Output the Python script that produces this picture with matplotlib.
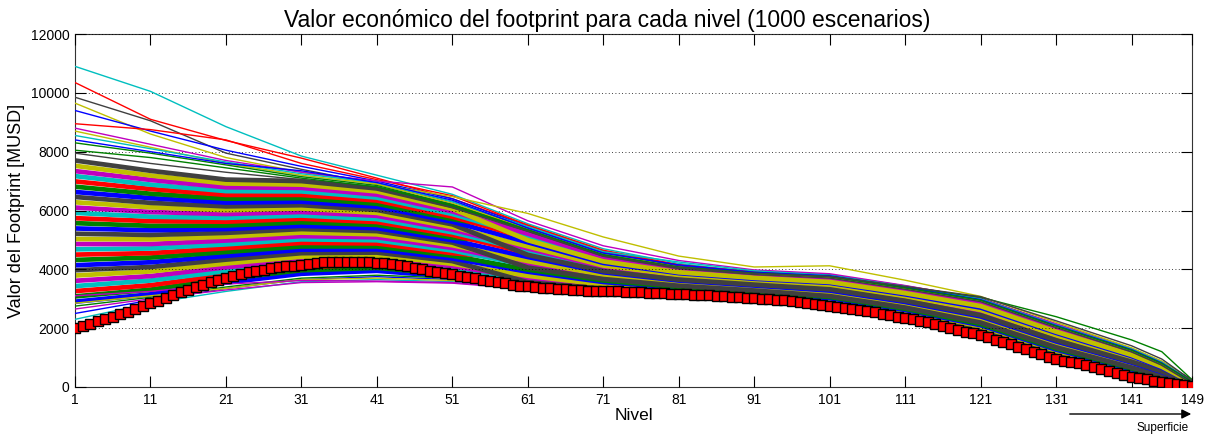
import matplotlib
matplotlib.use("Agg")
import matplotlib.pyplot as plt

plt.rcParams['font.family'] = ['Liberation Sans', 'DejaVu Sans']

# ---------------- data ----------------
title_text = "Valor económico del footprint para cada nivel (1000 escenarios)"
x_label = "Nivel"
y_label = "Valor del Footprint [MUSD]"
x_ticks = [1, 11, 21, 31, 41, 51, 61, 71, 81, 91, 101, 111, 121, 131, 141, 149]
y_ticks = [0, 2000, 4000, 6000, 8000, 10000, 12000]

node_levels = [1, 11, 21, 31, 41, 51, 61, 71, 81, 91, 101, 111, 121, 131, 141, 145, 149]

# dense band of scenarios (values read/estimated at node_levels)
band_scenarios = [
    [2900, 3150, 3550, 3850, 3950, 3750, 3420, 3250, 3120, 2980, 2760, 2360, 1800, 980, 370, 190, 30],
    [3080, 3310, 3680, 3970, 4050, 3840, 3490, 3300, 3160, 3010, 2800, 2400, 1840, 1020, 400, 210, 40],
    [3260, 3460, 3810, 4080, 4160, 3930, 3850, 3530, 3330, 3180, 2980, 2590, 2060, 1220, 570, 330, 60],
    [3430, 3620, 3940, 4200, 4260, 4020, 3640, 3390, 3230, 3080, 2870, 2470, 1930, 1100, 470, 260, 50],
    [3610, 3770, 4070, 4320, 4370, 4110, 3710, 3440, 3260, 3110, 2910, 2510, 1970, 1140, 500, 280, 50],
    [3790, 3930, 4200, 4430, 4470, 4190, 3780, 3480, 3300, 3150, 2950, 2550, 2020, 1180, 530, 300, 60],
    [3970, 4080, 4330, 4550, 4570, 4280, 3560, 3340, 3190, 3050, 2830, 2440, 1890, 1060, 440, 240, 40],
    [4140, 4240, 4460, 4670, 4680, 4370, 3920, 3570, 3370, 3210, 3020, 2620, 2100, 1270, 600, 350, 70],
    [4320, 4400, 4590, 4780, 4780, 4460, 3990, 3620, 3400, 3250, 3060, 2660, 2140, 1310, 630, 370, 70],
    [4500, 4550, 4720, 4900, 4880, 4550, 4350, 3850, 3580, 3410, 3240, 2850, 2360, 1510, 790, 480, 100],
    [4680, 4710, 4850, 5020, 4990, 4640, 4140, 3710, 3480, 3310, 3130, 2740, 2230, 1390, 700, 420, 90],
    [4860, 4860, 4980, 5130, 5090, 4730, 4210, 3760, 3510, 3350, 3170, 2780, 2270, 1430, 730, 440, 90],
    [5030, 5020, 5110, 5250, 5190, 4820, 4280, 3810, 3550, 3380, 3200, 2810, 2320, 1470, 760, 460, 100],
    [5210, 5170, 5240, 5370, 5300, 4910, 4060, 3670, 3440, 3280, 3090, 2700, 2190, 1350, 660, 390, 80],
    [5390, 5330, 5370, 5480, 5400, 4990, 4420, 3900, 3620, 3450, 3280, 2890, 2400, 1550, 830, 510, 110],
    [5570, 5480, 5490, 5600, 5510, 5080, 4850, 4180, 3830, 3650, 3500, 3120, 2660, 1800, 1020, 640, 140],
    [5740, 5640, 5620, 5720, 5610, 5170, 4560, 3990, 3690, 3510, 3350, 2960, 2490, 1630, 890, 550, 120],
    [5920, 5790, 5750, 5830, 5710, 5260, 4640, 4040, 3720, 3550, 3390, 3000, 2530, 1670, 920, 570, 120],
    [6100, 5950, 5880, 5950, 5820, 5350, 4710, 4080, 3760, 3580, 3430, 3040, 2570, 1710, 960, 600, 130],
    [6280, 6110, 6010, 6070, 5920, 5440, 4780, 4130, 3800, 3610, 3460, 3080, 2620, 1750, 990, 620, 140],
    [6460, 6260, 6140, 6180, 6020, 5530, 4490, 3940, 3650, 3480, 3320, 2930, 2440, 1590, 860, 530, 110],
    [6630, 6420, 6270, 6300, 6130, 5620, 4920, 4220, 3870, 3680, 3540, 3150, 2700, 1840, 1050, 660, 150],
    [6810, 6570, 6400, 6420, 6230, 5710, 5280, 4450, 4040, 3850, 3720, 3340, 2920, 2040, 1220, 780, 170],
    [6990, 6730, 6530, 6530, 6340, 5790, 5060, 4320, 3940, 3750, 3610, 3230, 2790, 1920, 1120, 710, 160],
    [7170, 6880, 6660, 6650, 6440, 5880, 5140, 4360, 3970, 3780, 3650, 3270, 2830, 1960, 1150, 730, 160],
    [7340, 7040, 6790, 6770, 6540, 5970, 5210, 4410, 4010, 3810, 3690, 3300, 2870, 2000, 1190, 750, 170],
    [7520, 7190, 6920, 6880, 6650, 6060, 4990, 4270, 3900, 3710, 3570, 3190, 2750, 1880, 1090, 690, 150],
    [7700, 7350, 7050, 7000, 6750, 6150, 5350, 4500, 4080, 3880, 3760, 3380, 2960, 2080, 1250, 800, 180],
]

# individual (sparse) scenarios visible at the edges of the band
edge_scenarios = [
    [10900, 10050, 8850, 7850, 7200, 6550, 5550, 4700, 4200, 3900, 3780, 3400, 2980, 2100, 1280, 830, 190],
    [10350, 9100, 8380, 7780, 7100, 6400, 5500, 4650, 4150, 3900, 3770, 3390, 2970, 2090, 1270, 820, 185],
    [9850, 9050, 7950, 7400, 6900, 6300, 5400, 4550, 4100, 3880, 3760, 3380, 2960, 2080, 1260, 810, 180],
    [9650, 8600, 7800, 7300, 6900, 6250, 5380, 4530, 4090, 3870, 3750, 3370, 2950, 2070, 1250, 800, 180],
    [9400, 8700, 8050, 7500, 7000, 6400, 5450, 4600, 4130, 3890, 3760, 3380, 2960, 2080, 1260, 810, 180],
    [8950, 8750, 8400, 7600, 7050, 6500, 5500, 4620, 4150, 3900, 3770, 3390, 2970, 2090, 1270, 820, 185],
    [8800, 8250, 7700, 7300, 7000, 6800, 5650, 4800, 4300, 3980, 3850, 3450, 3000, 2150, 1300, 850, 190],
    [8700, 8150, 7600, 7200, 6900, 6470, 5900, 5100, 4450, 4080, 4120, 3630, 3080, 2200, 1330, 880, 200],
    [8550, 8100, 7650, 7250, 6950, 6300, 5450, 4600, 4250, 3950, 3800, 3420, 2990, 2110, 1290, 840, 190],
    [8300, 7950, 7550, 7150, 6850, 6200, 5350, 4500, 4080, 3880, 3760, 3400, 3050, 2390, 1600, 1200, 250],
    [8400, 8000, 7600, 7350, 6950, 6350, 5400, 4550, 4150, 3900, 3780, 3390, 2970, 2090, 1270, 820, 185],
    [8050, 7800, 7450, 7100, 6800, 6150, 5300, 4480, 4070, 3870, 3750, 3370, 2950, 2070, 1250, 800, 180],
    [7950, 7600, 7300, 7050, 6750, 6100, 5300, 4450, 4060, 3860, 3760, 3420, 3070, 2250, 1400, 950, 220],
    [2300, 2850, 3250, 3580, 3650, 3580, 3380, 3230, 3100, 2950, 2720, 2330, 1780, 950, 360, 180, 20],
    [2500, 2950, 3350, 3650, 3750, 3650, 3420, 3270, 3110, 2960, 2740, 2340, 1790, 960, 360, 180, 20],
    [2750, 3050, 3400, 3700, 3800, 3700, 3450, 3280, 3130, 2990, 2770, 2370, 1810, 980, 380, 190, 30],
    [2650, 3000, 3300, 3550, 3580, 3530, 3330, 3200, 3060, 2920, 2700, 2310, 1760, 940, 350, 170, 20],
    [2850, 3100, 3350, 3650, 3700, 3620, 3400, 3250, 3100, 2960, 2740, 2350, 1790, 970, 370, 180, 25],
    [3100, 3250, 3500, 3620, 3600, 3550, 3350, 3220, 3080, 2940, 2720, 2330, 1780, 960, 360, 180, 20],
]
edge_colors = ['c', 'r', 'k', 'y', 'b', 'r', 'm', 'y', 'c', 'g', 'b', 'g', 'k',
               'c', 'b', 'g', 'm', 'y', 'm']

# highlighted scenario (red squares), one value per level 1..149
red_levels = list(range(1, 150))
red_values = [
    2000, 2080, 2150, 2230, 2300, 2380, 2470, 2560, 2650, 2750,
    2850, 2940, 3030, 3130, 3220, 3300, 3390, 3470, 3560, 3640,
    3720, 3790, 3850, 3900, 3950, 3990, 4030, 4070, 4100, 4130,
    4160, 4190, 4220, 4240, 4250, 4260, 4260, 4260, 4250, 4240,
    4220, 4200, 4170, 4140, 4100, 4060, 4010, 3960, 3910, 3870,
    3830, 3780, 3740, 3690, 3650, 3610, 3560, 3520, 3480, 3450,
    3420, 3400, 3370, 3350, 3330, 3320, 3300, 3290, 3280, 3280,
    3270, 3260, 3250, 3240, 3230, 3220, 3210, 3200, 3180, 3170,
    3160, 3150, 3140, 3130, 3120, 3100, 3090, 3070, 3050, 3040,
    3020, 3000, 2990, 2970, 2950, 2920, 2890, 2860, 2820, 2790,
    2750, 2720, 2690, 2660, 2620, 2580, 2540, 2490, 2440, 2390,
    2340, 2300, 2250, 2200, 2150, 2080, 2010, 1940, 1870, 1820,
    1770, 1690, 1610, 1530, 1450, 1370, 1280, 1200, 1110, 1030,
    950, 900, 850, 800, 750, 680, 610, 540, 470, 410,
    350, 310, 270, 220, 180, 140, 100, 60, 30,
]

# ---------------- styling ----------------
matlab_colors = {
    'b': (0, 0, 1), 'g': (0, 0.5, 0), 'r': (1, 0, 0), 'c': (0, 0.75, 0.75),
    'm': (0.75, 0, 0.75), 'y': (0.75, 0.75, 0), 'k': (0.25, 0.25, 0.25),
}
cycle = ['b', 'g', 'r', 'c', 'm', 'y', 'k']

W, H = 1209, 434
fig = plt.figure(figsize=(W / 100, H / 100), dpi=100)
ax = fig.add_axes([75 / W, (H - 387) / H, (1192 - 75) / W, (387 - 34) / H])

for i, row in enumerate(band_scenarios):
    ax.plot(node_levels, row, color=matlab_colors[cycle[i % 7]], lw=3.4,
            solid_joinstyle='round', zorder=2)

for row, c in zip(edge_scenarios, edge_colors):
    ax.plot(node_levels, row, color=matlab_colors[c], lw=1.0, zorder=3)

ax.plot(red_levels, red_values, linestyle='none', marker='s', markersize=6.6,
        markerfacecolor=(1, 0, 0), markeredgecolor='black', markeredgewidth=1.0,
        zorder=5)

ax.set_xlim(1, 149)
ax.set_ylim(0, 12000)
ax.set_xticks(x_ticks)
ax.set_yticks(y_ticks)
ax.tick_params(direction='in', length=8, width=0.8, top=True, right=True,
               labelsize=10, pad=4, colors='black')
for s in ax.spines.values():
    s.set_color((0.2, 0.2, 0.2))
    s.set_linewidth(0.8)
ax.yaxis.grid(True, linestyle=(0, (1, 3)), color='black', linewidth=0.6)
ax.set_axisbelow(False)

fig.text(607 / W, (H - 21) / H, title_text, ha='center', va='center', fontsize=16.5)
ax.set_xlabel(x_label, fontsize=12.5, labelpad=1)
ax.set_ylabel(y_label, fontsize=13, labelpad=4)

fig.patches.append(matplotlib.patches.FancyArrowPatch(
    (1067 / W, (H - 414) / H), (1194 / W, (H - 414) / H),
    transform=fig.transFigure, arrowstyle='-|>', mutation_scale=14,
    color='black', lw=1.0))
fig.text(1163 / W, (H - 428) / H, "Superficie", ha='center', va='center', fontsize=8.5)

fig.savefig("out.png", dpi=100)
